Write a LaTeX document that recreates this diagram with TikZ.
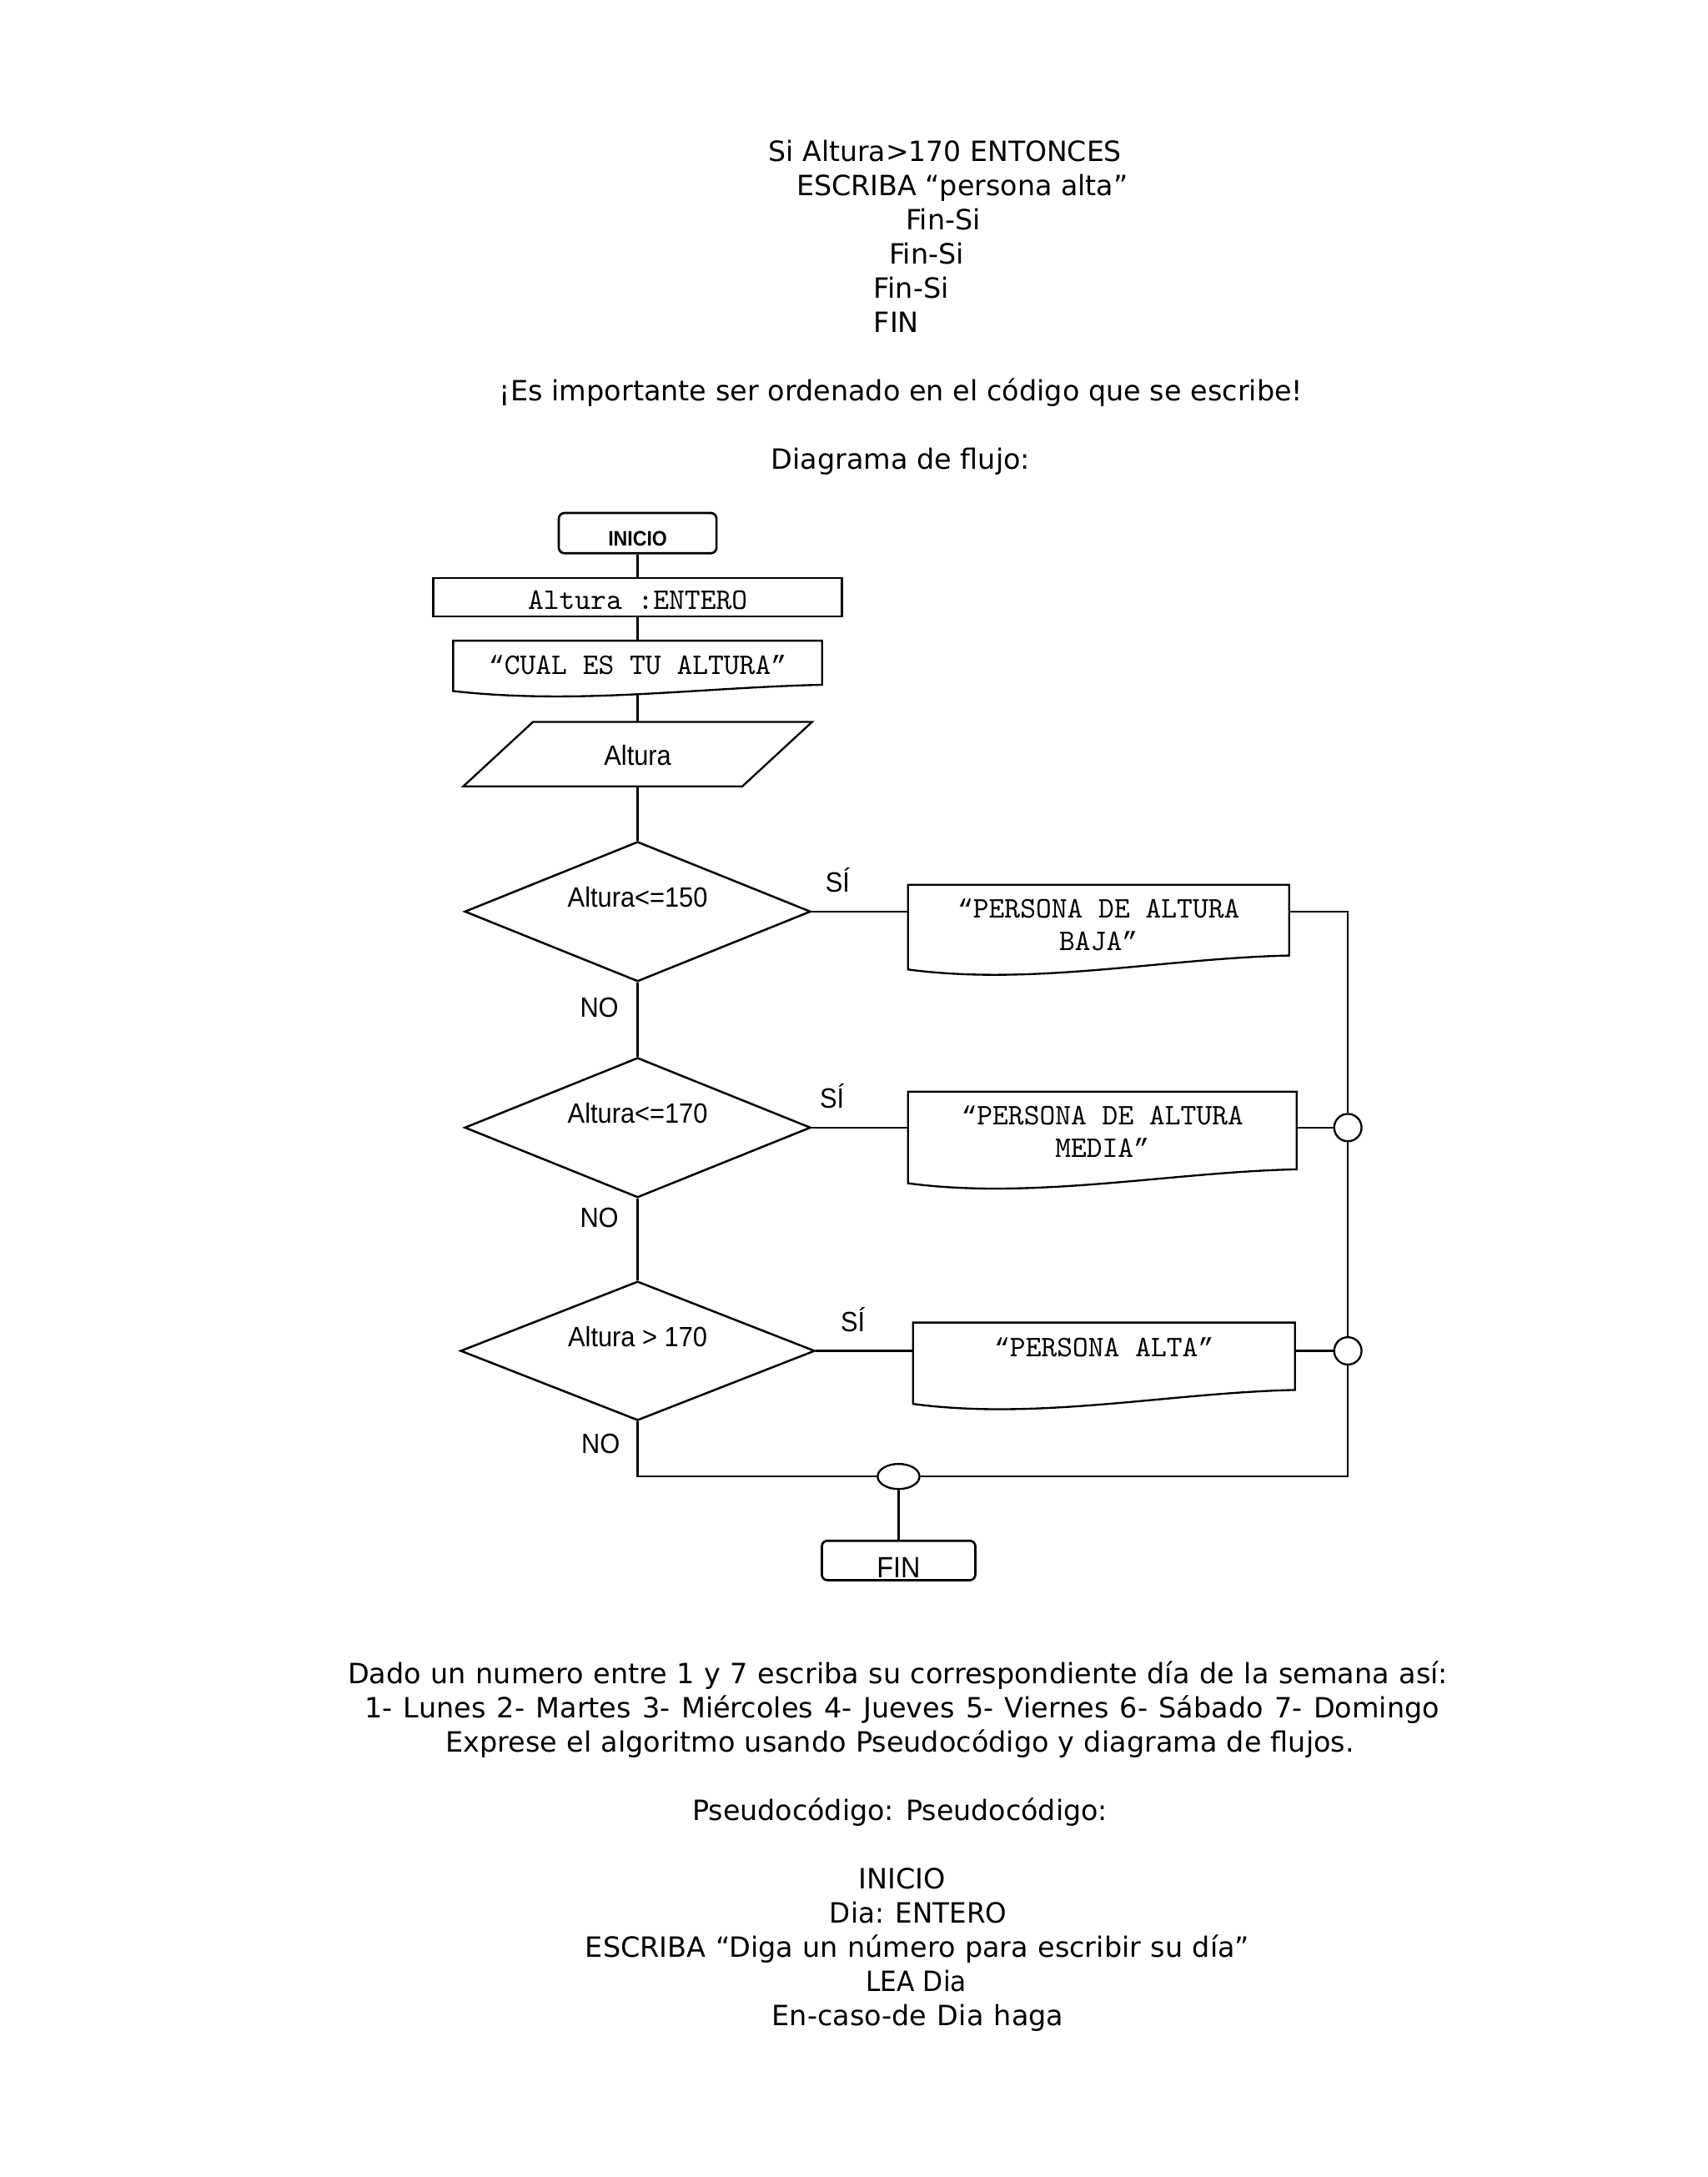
\documentclass[tikz,border=0pt]{standalone}
\usepackage{fontspec}
\usepackage{graphicx}
\usepackage{tikz}
\usetikzlibrary{shapes,arrows}
\newfontfamily\dejavu{DejaVu Sans}
\newfontfamily\arialn[FakeStretch=0.92]{Liberation Sans}
\newfontfamily\comillas{Liberation Mono}
\newsavebox{\renglonbox}
\newcommand{\qa}{{\comillas\fontsize{9.4}{11.6}\selectfont “}}
\newcommand{\qc}{{\comillas\fontsize{9.4}{11.6}\selectfont ”}}
\newcommand{\caja}[2]{\raisebox{#1}[0pt][0pt]{\begin{tabular}{@{}c@{}}#2\end{tabular}}}
\newcommand{\renglon}[2]{\sbox{\renglonbox}{#2}%
  \ifdim\wd\renglonbox>#1\relax\resizebox{#1}{\height}{\usebox{\renglonbox}}\else\hbox to #1{#2}\fi}
\newcommand{\documento}[3]{%
  \draw ([yshift=-#2]#1.south west) .. controls +(45pt,-#3) and +(-45pt,-1pt) .. (#1.south east)
    -- (#1.north east) -- (#1.north west) -- cycle;}
\tikzstyle{parrafo} = [anchor=base west, inner sep=0pt, font=\dejavu\fontsize{10}{12}\selectfont]
\tikzstyle{terminal} = [draw, rectangle, rounded corners=2pt, line width=0.8pt, inner sep=0pt,
    minimum width=56.5pt, minimum height=14.4pt]
\tikzstyle{bloque} = [draw, rectangle, inner sep=0pt, font=\ttfamily\fontsize{10.7}{11.6}\selectfont]
\tikzstyle{hoja} = [rectangle, inner sep=0pt, font=\ttfamily\fontsize{10.7}{11.6}\selectfont]
\tikzstyle{decision} = [draw, diamond, inner sep=0pt, line width=0.75pt, minimum height=49pt,
    font=\arialn\fontsize{10}{12}\selectfont]
\tikzstyle{union} = [draw, circle, inner sep=0pt, minimum size=9.8pt]
\tikzstyle{etiqueta} = [inner sep=0pt, font=\arialn\fontsize{10}{12}\selectfont]

\begin{document}
\begin{tikzpicture}[x=0.5pt, y=-0.5pt, line width=0.7pt]
    \fill[white] (0,0) rectangle (1224,1560);
    \useasboundingbox (0,0) rectangle (1224,1560);
    % text above the chart
    \node[parrafo] (p1) at (550.2,115.5) {\renglon{126.5pt}{Si Altura>170 ENTONCES}};
    \node[parrafo] (p2) at (570.2,140) {\renglon{118.75pt}{ESCRIBA “persona alta”}};
    \node[parrafo] (p3) at (648.5,164.5) {Fin-Si};
    \node[parrafo] (p4) at (636.5,189) {Fin-Si};
    \node[parrafo] (p5) at (625.6,213.5) {Fin-Si};
    \node[parrafo] (p6) at (625.6,238) {FIN};
    \node[parrafo] (p7) at (357.3,287) {\renglon{287.9pt}{¡Es importante ser ordenado en el código que se escribe!}};
    \node[parrafo] (p8) at (551.9,336) {\renglon{92.8pt}{Diagrama de flujo:}};
    % the blocks of the chart
    \node[terminal, font=\arialn\bfseries\fontsize{7.5}{9}\selectfont] (inicio) at (457,382) {\caja{-4.6pt}{INICIO}};
    \node[bloque, minimum width=146.4pt, minimum height=13.65pt] (declara) at (457,428) {\caja{-4.85pt}{Altura :ENTERO}};
    \node[hoja, minimum width=131.5pt, minimum height=15.1pt] (pregunta) at (457,474.9) {\caja{-4.55pt}{\qa CUAL ES TU ALTURA\qc}};
    \node[etiqueta, minimum width=100pt, minimum height=22.4pt] (lee) at (457,540.4) {\caja{-4.2pt}{Altura}};
    \node[decision, minimum width=124pt] (q1) at (457,653.2) {\caja{1.4pt}{Altura<=150}};
    \node[decision, minimum width=124pt] (q2) at (457,808) {\caja{1.4pt}{Altura<=170}};
    \node[decision, minimum width=127pt] (q3) at (457,968) {\caja{1.4pt}{Altura > 170}};
    \node[hoja, minimum width=135.9pt, minimum height=24.65pt] (d1) at (787.3,659.35) {\caja{-5.45pt}{\qa PERSONA DE ALTURA\\BAJA\qc}};
    \node[hoja, minimum width=138.6pt, minimum height=27.1pt] (d2) at (790,810.1) {\caja{-4.3pt}{\qa PERSONA DE ALTURA\\MEDIA\qc}};
    \node[hoja, minimum width=136.2pt, minimum height=23.45pt] (d3) at (791.2,971.85) {\caja{-0.45pt}{\qa PERSONA ALTA\qc}};
    \node[union] (c1) at (966,808) {};
    \node[union] (c2) at (966,968) {};
    \node[union, ellipse, minimum width=15pt, minimum height=9pt] (c3) at (644,1058) {};
    \node[terminal, font=\arialn\fontsize{10.5}{12}\selectfont, minimum width=55pt, minimum height=14.15pt] (fin) at (644,1118.2) {\caja{-6.4pt}{FIN}};
    % outlines drawn by hand
    \draw ([xshift=-37.5pt]lee.north) -- ([xshift=62.5pt]lee.north) -- ([xshift=37.5pt]lee.south) -- ([xshift=-62.5pt]lee.south) -- cycle;
    \documento{pregunta}{2.25pt}{5pt}
    \documento{d1}{5pt}{6pt}
    \documento{d2}{5pt}{6pt}
    \documento{d3}{5pt}{6pt}
    % the connectors
    \draw (inicio) -- (declara);
    \draw (declara) -- (pregunta);
    \draw ([yshift=-3.4pt]pregunta.south) -- (lee);
    \draw (lee) -- (q1);
    \draw (q1) -- node[etiqueta, pos=.34, left=6.5pt] (no1) {NO} (q2);
    \draw (q2) -- node[etiqueta, pos=.23, left=6.5pt] (no2) {NO} (q3);
    \draw (q1) -- node[etiqueta, pos=.27, above=6.4pt] (si1) {SÍ} (q1 -| d1.west);
    \draw (q2) -- node[etiqueta, pos=.21, above=6.4pt] (si2) {SÍ} (q2 -| d2.west);
    \draw (q3) -- node[etiqueta, pos=.38, above=6.4pt] (si3) {SÍ} (q3 -| d3.west);
    \draw (d1.east |- q1) -| (c1);
    \draw (d2.east |- q2) -- (c1);
    \draw (c1) -- (c2);
    \draw (d3.east |- q3) -- (c2);
    \draw (c2) |- (c3);
    \draw (q3) |- node[etiqueta, pos=.2, left=6pt] (no3) {NO} (c3);
    \draw (c3) -- (fin);
    % text below the chart
    \node[parrafo] (p9) at (248.6,1206.4) {\renglon{394.2pt}{Dado un numero entre 1 y 7 escriba su correspondiente día de la semana así:}};
    \node[parrafo] (p10) at (260.6,1230.9) {\renglon{385.2pt}{1- Lunes 2- Martes 3- Miércoles 4- Jueves 5- Viernes 6- Sábado 7- Domingo}};
    \node[parrafo] (p11) at (318.9,1255.4) {\renglon{325.5pt}{Exprese el algoritmo usando Pseudocódigo y diagrama de flujos.}};
    \node[parrafo] (p12) at (495.5,1304.4) {\renglon{148.75pt}{Pseudocódigo: Pseudocódigo:}};
    \node[parrafo] (p13) at (614.7,1353.4) {INICIO};
    \node[parrafo] (p14) at (594,1377.9) {\renglon{63.5pt}{Dia: ENTERO}};
    \node[parrafo] (p15) at (418.8,1402.4) {\renglon{238pt}{ESCRIBA “Diga un número para escribir su día”}};
    \node[parrafo] (p16) at (620,1426.9) {\renglon{36pt}{LEA Dia}};
    \node[parrafo] (p17) at (552.6,1451.4) {\renglon{104.5pt}{En-caso-de Dia haga}};
\end{tikzpicture}
\end{document}
